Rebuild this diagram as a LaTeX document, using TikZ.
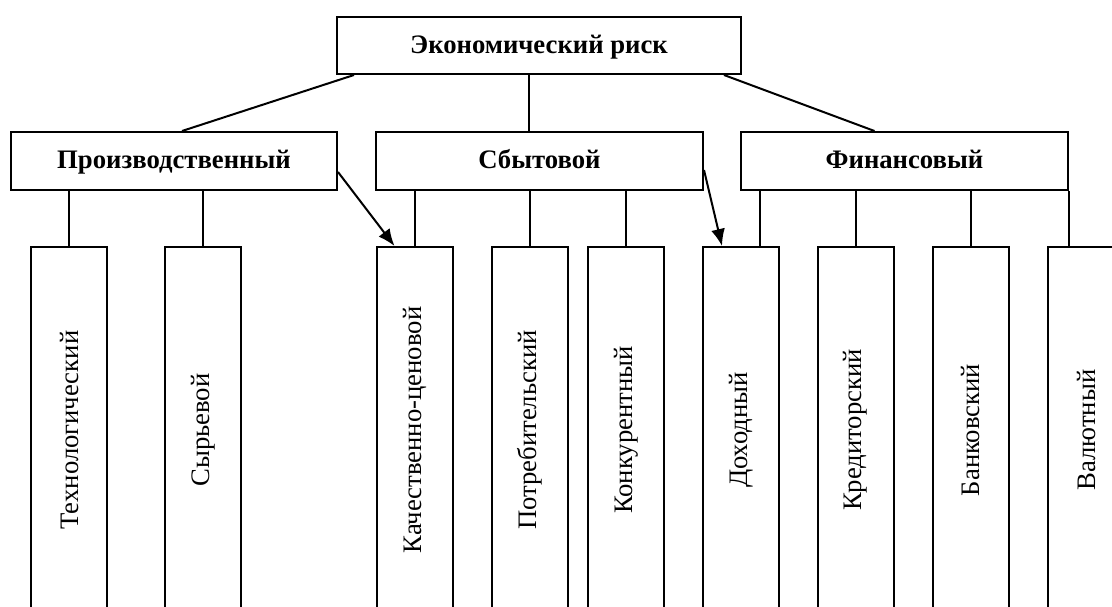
\documentclass[tikz,border=0pt]{standalone}
\usepackage{fontspec}
\setmainfont{Liberation Serif}
\usepackage{tikz}
\usetikzlibrary{arrows.meta}

\begin{document}
\begin{tikzpicture}[x=1pt,y=-1pt,line width=2pt]
	\tikzstyle{box}=[rectangle,draw=black,line width=2pt,inner sep=0pt,text height=20pt,text depth=5pt,font=\fontsize{26.7}{31}\selectfont\bfseries]
	\tikzstyle{vbox}=[rectangle,draw=black,line width=2pt,inner sep=0pt,minimum width=76pt,minimum height=366pt,font=\fontsize{26.7}{31}\selectfont]
	\tikzstyle{arr}=[-{Latex[length=17pt,width=14pt]}]
	\useasboundingbox (0,0) rectangle (1112,606);
	\clip (0,0) rectangle (1112,606);
	% top
	\node[box,minimum width=404pt,minimum height=57pt](risk) at (539,45.5) {Экономический риск};
	% second row
	\node[box,minimum width=326pt,minimum height=58pt](prod) at (174,161) {Производственный};
	\node[box,minimum width=327pt,minimum height=58pt](sbyt) at (539.5,161) {Сбытовой};
	\node[box,minimum width=327pt,minimum height=58pt](fin) at (904.5,161) {Финансовый};
	% bottom row
	\node[vbox](v1) at (69,430) {\rotatebox{90}{Технологический}};
	\node[vbox](v2) at (203,430) {\rotatebox{90}{Сырьевой}};
	\node[vbox](v3) at (414.5,430) {\rotatebox{90}{Качественно-ценовой}};
	\node[vbox](v4) at (529.5,430) {\rotatebox{90}{Потребительский}};
	\node[vbox](v5) at (626,430) {\rotatebox{90}{Конкурентный}};
	\node[vbox](v6) at (741,430) {\rotatebox{90}{Доходный}};
	\node[vbox](v7) at (855.5,430) {\rotatebox{90}{Кредиторский}};
	\node[vbox](v8) at (970.5,430) {\rotatebox{90}{Банковский}};
	\node[vbox](v9) at (1086,430) {\rotatebox{90}{Валютный}};
	% links
	\draw ([xshift=18pt]risk.south west) -- ([xshift=172pt]prod.north west);
	\draw ([xshift=-10pt]risk.south) -- ([xshift=-10pt]risk.south |- sbyt.north);
	\draw ([xshift=-18pt]risk.south east) -- ([xshift=-30pt]fin.north);
	\draw (v1.north) -- (v1.north |- prod.south);
	\draw (v2.north) -- (v2.north |- prod.south);
	\draw (v3.north) -- (v3.north |- sbyt.south);
	\draw (v4.north) -- (v4.north |- sbyt.south);
	\draw (v5.north) -- (v5.north |- sbyt.south);
	\draw ([xshift=19pt]v6.north) -- ([xshift=19pt]v6.north |- fin.south);
	\draw (v7.north) -- (v7.north |- fin.south);
	\draw (v8.north) -- (v8.north |- fin.south);
	\draw (fin.south east) -- (fin.south east |- v9.north);
	\draw[arr] ([yshift=-11pt]prod.east) -- ([xshift=-20pt]v3.north);
	\draw[arr] ([yshift=-9pt]sbyt.east) -- ([xshift=-19pt]v6.north);
\end{tikzpicture}
\end{document}
